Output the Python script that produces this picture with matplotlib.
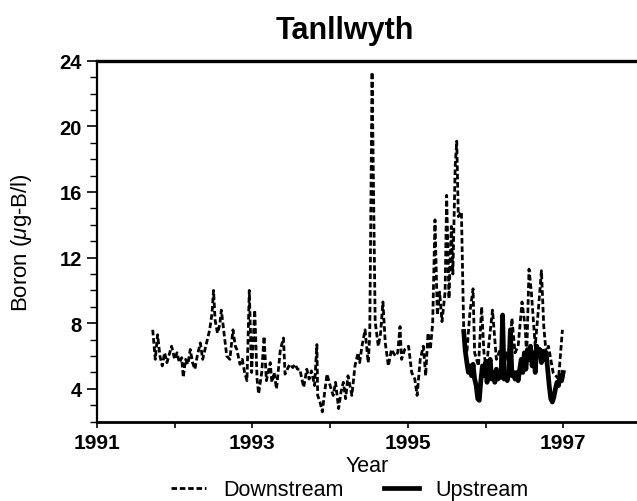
import matplotlib
matplotlib.use("Agg")
import matplotlib.pyplot as plt
from matplotlib.ticker import MultipleLocator, FixedLocator

plt.rcParams['font.family'] = ['Liberation Sans', 'DejaVu Sans']
plt.rcParams['mathtext.fontset'] = 'custom'
plt.rcParams['mathtext.it'] = 'Liberation Sans:italic'
plt.rcParams['mathtext.rm'] = 'Liberation Sans'

# ---------------- data ----------------
down_year = [
    1991.717, 1991.75, 1991.78, 1991.81, 1991.84, 1991.87, 1991.90, 1991.93, 1991.96,
    1992.00, 1992.03, 1992.06, 1992.09, 1992.11, 1992.14, 1992.17, 1992.20, 1992.23,
    1992.26, 1992.29, 1992.33, 1992.36, 1992.39, 1992.43, 1992.45, 1992.48, 1992.50,
    1992.52, 1992.55, 1992.58, 1992.60, 1992.63, 1992.67, 1992.71, 1992.75, 1992.78,
    1992.80, 1992.84, 1992.87, 1992.90, 1992.93, 1992.96, 1992.99, 1993.03, 1993.06,
    1993.08, 1993.12, 1993.15, 1993.18, 1993.23, 1993.25, 1993.28, 1993.31, 1993.36,
    1993.40, 1993.42, 1993.45, 1993.48, 1993.52, 1993.55, 1993.58, 1993.61, 1993.66,
    1993.70, 1993.73, 1993.76, 1993.80, 1993.83, 1993.84, 1993.87, 1993.90, 1993.93,
    1993.96, 1994.00, 1994.04, 1994.07, 1994.11, 1994.14, 1994.17, 1994.20, 1994.23,
    1994.28, 1994.32, 1994.36, 1994.38, 1994.41, 1994.45, 1994.49, 1994.51, 1994.54,
    1994.58, 1994.62, 1994.65, 1994.68, 1994.71, 1994.75, 1994.79, 1994.84, 1994.87,
    1994.90, 1994.92, 1994.96, 1995.01, 1995.05, 1995.09, 1995.12, 1995.16, 1995.20,
    1995.23, 1995.26, 1995.29, 1995.32, 1995.35, 1995.38, 1995.41, 1995.44, 1995.48,
    1995.50, 1995.53, 1995.56, 1995.58, 1995.61, 1995.63, 1995.65, 1995.69, 1995.72,
    1995.76, 1995.80, 1995.84, 1995.86, 1995.91, 1995.95, 1995.98, 1996.01, 1996.04,
    1996.09, 1996.14, 1996.19, 1996.23, 1996.27, 1996.30, 1996.34, 1996.38, 1996.42,
    1996.47, 1996.51, 1996.53, 1996.56, 1996.59, 1996.64, 1996.68, 1996.72, 1996.75,
    1996.78, 1996.81, 1996.87, 1996.94, 1996.99,
]
down_boron = [
    7.6, 5.8, 7.3, 6.0, 5.4, 6.2, 5.6, 6.1, 6.6,
    5.8, 6.2, 5.6, 5.9, 4.7, 5.8, 5.5, 6.4, 5.6,
    5.2, 6.0, 6.8, 5.8, 6.4, 7.2, 7.6, 8.6, 10.0,
    8.2, 7.4, 7.9, 8.8, 7.6, 6.0, 5.8, 7.6, 6.6,
    6.4, 5.5, 5.8, 5.0, 4.5, 10.0, 5.0, 8.8, 4.6,
    3.7, 5.0, 7.2, 4.5, 5.6, 4.4, 5.0, 4.0, 6.4,
    7.1, 4.9, 5.2, 5.5, 5.3, 5.5, 5.2, 5.2, 4.1,
    5.2, 4.6, 5.1, 4.2, 6.7, 3.6, 3.2, 2.6, 3.8,
    4.9, 4.2, 3.6, 4.4, 2.8, 3.8, 4.4, 3.4, 4.8,
    3.6, 5.4, 6.2, 5.6, 6.6, 7.6, 5.6, 7.2, 23.3,
    8.1, 6.6, 7.4, 9.3, 6.8, 5.4, 6.4, 6.0, 6.2,
    7.8, 5.8, 6.4, 6.6, 5.0, 4.6, 3.6, 5.8, 6.6,
    4.8, 7.4, 6.4, 8.0, 14.3, 8.5, 9.9, 8.1, 9.9,
    15.8, 9.5, 13.9, 11.0, 17.6, 19.1, 14.5, 14.8, 7.5,
    6.2, 8.7, 10.1, 6.2, 5.4, 9.0, 6.2, 5.2, 6.6,
    8.8, 5.8, 6.4, 5.6, 6.2, 5.4, 8.3, 6.2, 6.6,
    9.3, 7.8, 6.0, 11.3, 9.9, 6.6, 8.8, 11.2, 7.8,
    6.2, 6.6, 5.0, 4.6, 7.6,
]

up_year = [
    1995.72, 1995.74, 1995.76, 1995.78, 1995.80, 1995.82, 1995.84, 1995.86, 1995.88,
    1995.90, 1995.92, 1995.94, 1995.96, 1995.98, 1996.00, 1996.02, 1996.04, 1996.06,
    1996.08, 1996.10, 1996.12, 1996.14, 1996.16, 1996.18, 1996.20, 1996.22, 1996.24,
    1996.26, 1996.28, 1996.30, 1996.32, 1996.34, 1996.36, 1996.38, 1996.40, 1996.42,
    1996.44, 1996.46, 1996.48, 1996.50, 1996.52, 1996.54, 1996.56, 1996.58, 1996.60,
    1996.62, 1996.64, 1996.66, 1996.68, 1996.70, 1996.72, 1996.74, 1996.76, 1996.78,
    1996.80, 1996.82, 1996.84, 1996.86, 1996.88, 1996.90, 1996.92, 1996.94, 1996.96,
    1996.98, 1997.00,
]
up_boron = [
    7.5, 6.3, 5.6, 5.0, 5.4, 4.8, 5.5, 4.6, 4.2,
    3.4, 3.3, 4.5, 5.4, 4.8, 5.6, 4.4, 5.3, 5.8,
    4.6, 5.0, 4.4, 5.2, 4.6, 5.0, 4.7, 8.5, 4.6,
    5.0, 4.5, 5.2, 7.6, 4.8, 5.0, 4.6, 5.0, 4.5,
    5.2, 5.8, 5.0, 6.2, 5.2, 6.4, 5.8, 6.6, 5.4,
    6.2, 5.0, 6.6, 6.0, 6.4, 5.6, 6.3, 5.8, 6.2,
    5.2, 4.2, 3.4, 3.2, 3.5, 4.0, 4.4, 4.2, 4.8,
    4.5, 5.0,
]

x_major = [1991, 1993, 1995, 1997]
x_minor = [1992, 1994, 1996]
y_major = [4, 8, 12, 16, 20, 24]

# ---------------- figure ----------------
W, H = 637, 502
fig = plt.figure(figsize=(W / 100, H / 100), dpi=100)
ax = fig.add_axes([97 / W, 79.3 / H, 540 / W, (422.7 - 61.7) / H])

l_down, = ax.plot(down_year, down_boron, color='black', lw=2.0,
                  linestyle=(0, (2.0, 1.0)), dash_capstyle='butt',
                  label='Downstream')
l_up, = ax.plot(up_year, up_boron, color='black', lw=3.4,
                solid_joinstyle='round', label='Upstream')

ax.set_xlim(1991, 1991 + 540 / 77.7)
ax.set_ylim(2, 24)

ax.xaxis.set_major_locator(FixedLocator(x_major))
ax.xaxis.set_minor_locator(FixedLocator(x_minor))
ax.yaxis.set_major_locator(FixedLocator(y_major))
ax.yaxis.set_minor_locator(MultipleLocator(1))

ax.tick_params(axis='x', which='both', direction='out', length=4, width=1.2,
               labelsize=15, pad=4)
ax.tick_params(axis='y', which='major', direction='out', length=7, width=1.2,
               labelsize=14.5, pad=4)
ax.tick_params(axis='y', which='minor', direction='out', length=5, width=1.0)
for lab in ax.get_xticklabels() + ax.get_yticklabels():
    lab.set_fontweight('bold')

ax.spines['right'].set_visible(False)
ax.spines['left'].set_linewidth(1.6)
ax.spines['bottom'].set_linewidth(2.0)
ax.spines['top'].set_linewidth(2.4)

fig.text(345 / W, 1 - 31 / H, 'Tanllwyth', ha='center', va='center',
         fontsize=22, fontweight='bold')
fig.text(21 / W, 1 - 243 / H, r'Boron ($\mu$g-B/l)', ha='center', va='center',
         rotation=90, fontsize=16)
fig.text(367 / W, 1 - 467 / H, 'Year', ha='center', va='center', fontsize=15.5)

fig.legend([l_down, l_up], ['Downstream', 'Upstream'], loc='center',
           bbox_to_anchor=(350 / W, 1 - 491 / H), ncol=2, frameon=False,
           fontsize=15.5, handlelength=1.6, handletextpad=0.8, columnspacing=1.9,
           borderpad=0, borderaxespad=0)

fig.savefig('out.png', dpi=100)
